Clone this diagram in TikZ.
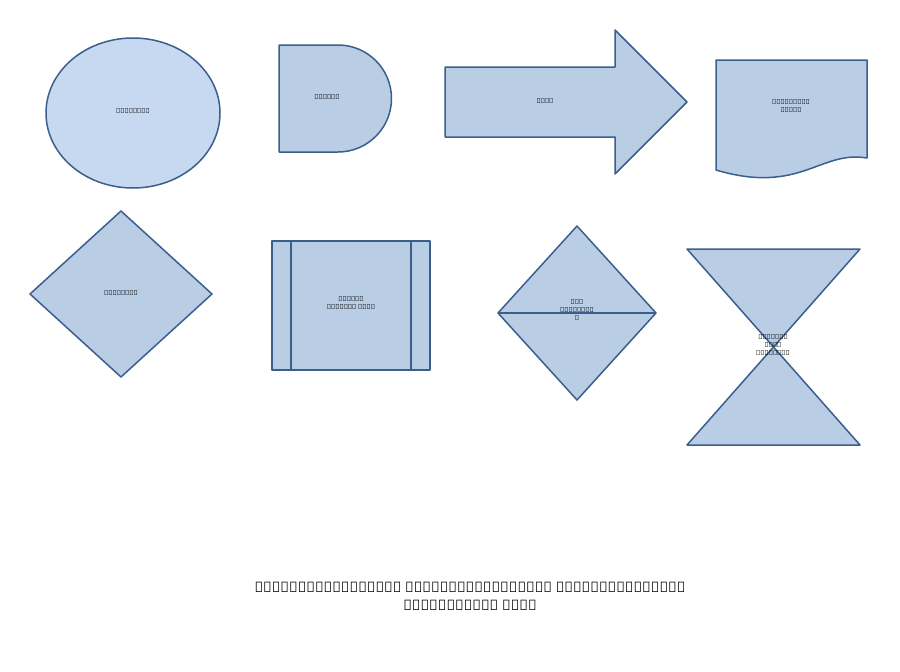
\documentclass[tikz,border=0pt]{standalone}
\usepackage{fontspec}
\setmainfont{Noto Sans}
\usetikzlibrary{shapes.geometric}
\definecolor{fillb}{HTML}{B9CDE5}
\definecolor{filll}{HTML}{C6D9F1}
\definecolor{strk}{HTML}{3B5E8C}
\tikzset{sh/.style={draw=strk,line width=1.5pt,fill=fillb,line join=round},
lbl/.style={font=\bfseries\scriptsize,align=center,text=black}}
\begin{document}
\begin{tikzpicture}[x=1pt,y=-1pt]
\useasboundingbox (0,0) rectangle (900,672);
% process
\draw[sh,fill=filll] (133,113) ellipse [x radius=87,y radius=75];
\node[lbl] (a) at (133,111) {പ്രക്രിയ};
% delay
\draw[sh] (279,45) -- (338,45) arc[start angle=-90,end angle=90,radius=53.5] -- (279,152) -- cycle;
\node[lbl] (b) at (327,97) {വിളംബം};
% arrow
\draw[sh] (445,67) -- (615,67) -- (615,30) -- (687,102) -- (615,174) -- (615,137) -- (445,137) -- cycle;
\node[lbl] (c) at (545,101) {വഹനം};
% document
\draw[sh] (716,60) -- (867,60) -- (867,158) .. controls (820,150) and (800,195) .. (716,170) -- cycle;
\node[lbl] (d) at (791,106) {വിവരണങ്ങൾ\\രേഖകൾ};
% decision
\draw[sh] (121,211) -- (212,294) -- (121,377) -- (30,294) -- cycle;
\node[lbl] (e) at (121,293) {തീരുമാനം};
% predefined
\draw[sh] (272,241) rectangle (430,370);
\draw[draw=strk,line width=1.5pt] (291,241) -- (291,370) (411,241) -- (411,370);
\node[lbl] (f) at (351,303) {പൂർവ്വ\\നിശ്ചിത രീതി};
% sort
\draw[sh] (577,226) -- (656,313) -- (577,400) -- (498,313) -- cycle;
\draw[draw=strk,line width=1.5pt] (498,313) -- (656,313);
\node[lbl] (g) at (577,310) {ഇനം\\തിരിക്കു\\ക};
% collate
\draw[sh] (687,249) -- (860,249) -- (687,445) -- (860,445) -- cycle;
\node[lbl] (h) at (773,345) {ക്രമാനു\\സാരം\\അടുക്കുക};
% title
\node[font=\bfseries\Large,align=center] (t) at (470,596) {നടപടിക്രമങ്ങൾക്ക് ആഗോളാടിസ്ഥാനത്തിൽ ഉപയോഗിക്കാറുള്ള\\ചിഹ്നങ്ങളിൽ ചിലവ};
\end{tikzpicture}
\end{document}
